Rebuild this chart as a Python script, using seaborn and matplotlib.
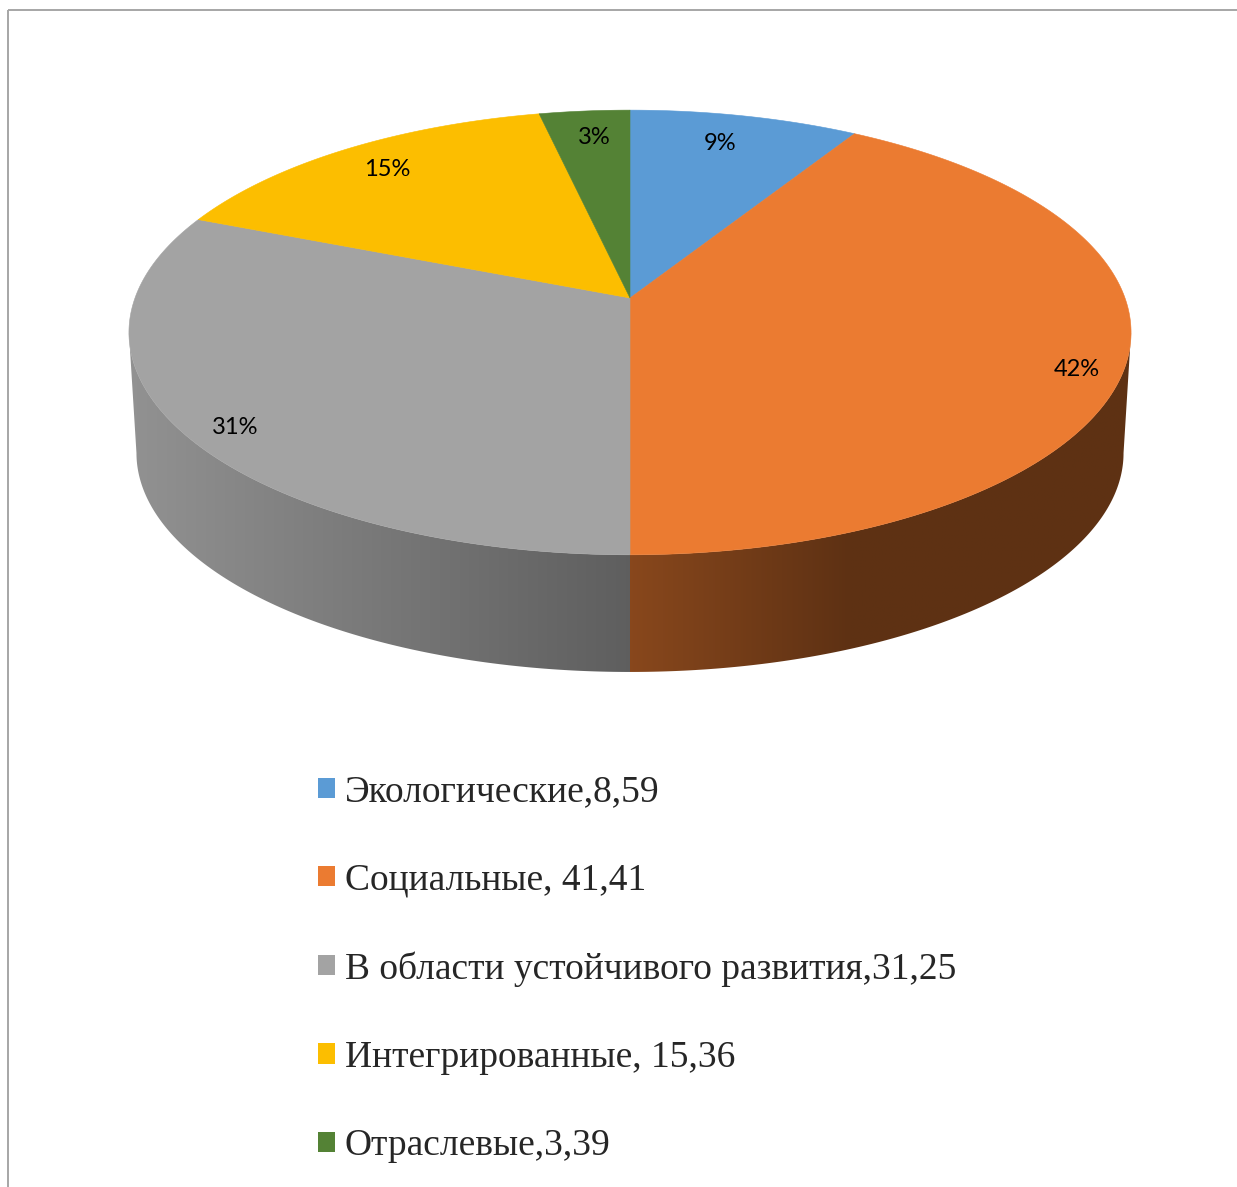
import numpy as np
import matplotlib
matplotlib.use("Agg")
import matplotlib.pyplot as plt
import seaborn as sns
from matplotlib.patches import Polygon, Rectangle, Patch
from matplotlib.colors import to_rgb

# Data
categories = ["Экологические", "Социальные", "В области устойчивого развития",
              "Интегрированные", "Отраслевые"]
values = [8.59, 41.41, 31.25, 15.36, 3.39]
legend_labels = ["Экологические,8,59", "Социальные, 41,41",
                 "В области устойчивого развития,31,25",
                 "Интегрированные, 15,36", "Отраслевые,3,39"]
pct_labels = ["9%", "42%", "31%", "15%", "3%"]
colors = ["#5B9BD5", "#EB7B31", "#A3A3A3", "#FCBE00", "#548235"]

sns.set_theme(style="white")
palette = sns.color_palette(colors)

W, H = 1237, 1187
fig = plt.figure(figsize=(W / 100, H / 100), dpi=100)
ax = fig.add_axes([0, 0, 1, 1])

# Perspective disc geometry (pixel space)
CX, CY = 630, 298
A, B, P = 495, 217, 0.155
THICK, BSCALE = 121, 0.985


def rim(theta_deg, level=0, r=1.0):
    t = np.radians(theta_deg)
    u, v = r * np.cos(t), r * np.sin(t)
    s = 1 + P * v
    sc = 1.0 if level == 0 else BSCALE
    cy = CY if level == 0 else CY + THICK
    return CX + A * sc * u / s, cy - B * sc * v / s


# Slice angular ranges: start at 12 o'clock, clockwise
total = sum(values)
cum = np.concatenate([[0], np.cumsum(values)]) / total * 360
hi_angles = 90 - cum[:-1]
lo_angles = 90 - cum[1:]

# Visible front wall range (silhouette where the rim tangent is vertical)
sil = np.degrees(np.arcsin(P))
front_lo, front_hi = -180 + sil, -sil

xs_grad = np.linspace(100, 1160, 800)
shade = np.interp(xs_grad, [136, 630, 850, 1131], [0.89, 0.58, 0.40, 0.40])

for c, lo, hi in zip(palette, lo_angles, hi_angles):
    a0, a1 = max(lo, front_lo), min(hi, front_hi)
    if a1 <= a0:
        continue
    th = np.linspace(a0, a1, 200)
    tx, ty = rim(th, 0)
    bx, by = rim(th[::-1], 1)
    poly = Polygon(np.column_stack([np.concatenate([tx, bx]),
                                    np.concatenate([ty, by])]),
                   closed=True, fc="none", ec="none")
    ax.add_patch(poly)
    img = np.array(to_rgb(c))[None, None, :] * shade[None, :, None]
    img = np.repeat(img, 2, axis=0)
    im = ax.imshow(img, extent=[100, 1160, 700, 300], aspect="auto",
                   interpolation="bilinear", zorder=1)
    im.set_clip_path(poly)

# Top face wedges
for c, lo, hi in zip(palette, lo_angles, hi_angles):
    th = np.linspace(hi, lo, 300)
    ex, ey = rim(th, 0)
    ax.fill(np.concatenate([[CX], ex]), np.concatenate([[CY], ey]),
            color=c, ec=c, lw=0.4, zorder=2)

# Percentage labels
label_xy = [(720, 143), (1077, 369), (235, 428), (387, 169), (594, 138)]
for (lx, ly), t in zip(label_xy, pct_labels):
    ax.text(lx, ly, t, ha="center", va="center", fontsize=17,
            family="Lato", color="black", zorder=3)

# Outer frame
ax.add_patch(Rectangle((8, 10), 3000, 3000, fill=False, ec="#A6A6A6",
                       lw=1.4, zorder=4))

handles = [Patch(facecolor=c, edgecolor="none", label=l)
           for c, l in zip(palette, legend_labels)]
ax.legend(handles=handles, loc="upper left", bbox_to_anchor=(318, 775),
          bbox_transform=ax.transData, frameon=False,
          prop={"family": "Liberation Serif", "size": 27},
          handlelength=0.45, handleheight=0.45, handletextpad=0.26,
          labelspacing=1.43, borderpad=0, borderaxespad=0)

ax.set_xlim(0, W)
ax.set_ylim(H, 0)
ax.axis("off")
fig.savefig("out.png", dpi=100, facecolor="white")
